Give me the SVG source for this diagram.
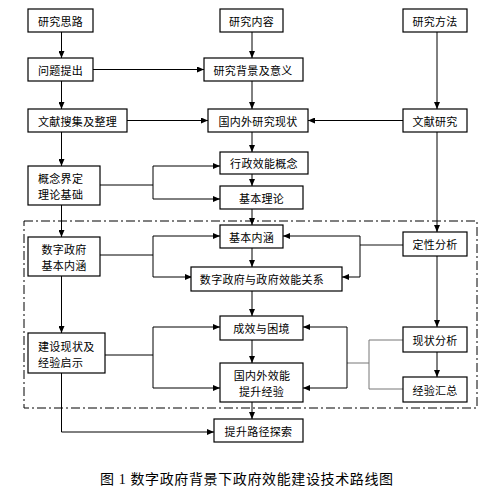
<svg xmlns="http://www.w3.org/2000/svg" width="497" height="490" viewBox="0 0 497 490">
<defs>
<marker id="ah" markerUnits="userSpaceOnUse" markerWidth="7" markerHeight="6" refX="7" refY="3" orient="auto">
<path d="M0,0 L7,3 L0,6 z" fill="#000"/>
</marker>
<style>
.box{fill:#fff;stroke:#000;stroke-width:1.2}
.t{font-family:"Noto Sans CJK SC",sans-serif;font-size:11px;fill:#000;dominant-baseline:central;letter-spacing:0.3px}
.c{text-anchor:middle}
.ln{fill:none;stroke:#000;stroke-width:1}
.ar{fill:none;stroke:#000;stroke-width:1;marker-end:url(#ah)}
.g{fill:none;stroke:#777;stroke-width:1}
.gt{fill:none;stroke:#888;stroke-width:2}
.dash{fill:none;stroke:#000;stroke-width:1;stroke-dasharray:9 3 2 3}
.cap{font-family:"Liberation Serif","Noto Sans CJK SC",serif;font-size:14px;fill:#000;dominant-baseline:central}
</style>
</defs>
<rect x="0" y="0" width="497" height="490" fill="#fff"/>
<rect class="dash" x="24" y="221" width="453" height="187"/>
<g id="connectors">
<path class="ar" d="M61.5,32V58"/>
<path class="ar" d="M61.5,81V109"/>
<path class="ar" d="M61.5,132V166"/>
<path class="ar" d="M61.5,205V237"/>
<path class="ar" d="M61.5,276V333"/>
<path class="ar" d="M61.5,373V432H214"/>
<path class="ar" d="M93,69.5H204"/>
<path class="ar" d="M127,120.5H208"/>
<path class="ar" d="M403,120.5H308"/>
<path class="ln" d="M100,185H153M153,166V199"/>
<path class="ar" d="M153,166H220"/>
<path class="ar" d="M153,199H220"/>
<path class="ln" d="M100,255H153M153,236V277"/>
<path class="ar" d="M153,236H220"/>
<path class="ar" d="M153,277H192"/>
<path class="ln" d="M105,355H153M153,327V388"/>
<path class="ar" d="M153,327H220"/>
<path class="ar" d="M153,388H220"/>
<path class="ar" d="M252,32V58"/>
<path class="ar" d="M252,81V109"/>
<path class="ar" d="M252,132V152"/>
<path class="ar" d="M252,174V186"/>
<path class="ar" d="M252,209V225"/>
<path class="ar" d="M252,248V267"/>
<path class="ar" d="M252,291V316"/>
<path class="ar" d="M252,340V363"/>
<path class="ar" d="M252,402V419"/>
<path class="ar" d="M437,32V109"/>
<path class="ar" d="M437,132V232"/>
<path class="ar" d="M437,256V327"/>
<path class="ar" d="M437,352V377"/>
<path class="gt" d="M403,245H360"/>
<path class="ln" d="M360,236V277"/>
<path class="ar" d="M360,236H283"/>
<path class="ar" d="M360,277H342"/>
<path class="g" d="M403,340H369V389H403M369,363H347"/>
<path class="ln" d="M347,327V388"/>
<path class="ar" d="M347,327H303"/>
<path class="ar" d="M347,388H303"/>
</g>
<g id="n1"><rect class="box" x="28" y="9" width="65" height="23"/><text class="t c" x="60.5" y="20.5">研究思路</text></g>
<g id="n2"><rect class="box" x="28" y="58" width="65" height="23"/><text class="t c" x="60.5" y="69.5">问题提出</text></g>
<g id="n3"><rect class="box" x="28" y="109" width="99" height="23"/><text class="t c" x="77.5" y="120.5">文献搜集及整理</text></g>
<g id="n4"><rect class="box" x="28" y="166" width="72" height="39"/><text class="t" x="38" y="178">概念界定</text><text class="t" x="38" y="194">理论基础</text></g>
<g id="n5"><rect class="box" x="28" y="237" width="72" height="39"/><text class="t c" x="64" y="249">数字政府</text><text class="t c" x="64" y="265">基本内涵</text></g>
<g id="n6"><rect class="box" x="28" y="333" width="77" height="40"/><text class="t" x="38" y="346">建设现状及</text><text class="t" x="38" y="362">经验启示</text></g>
<g id="n7"><rect class="box" x="220" y="9" width="63" height="23"/><text class="t c" x="251.5" y="20.5">研究内容</text></g>
<g id="n8"><rect class="box" x="204" y="58" width="99" height="23"/><text class="t c" x="253" y="69.5">研究背景及意义</text></g>
<g id="n9"><rect class="box" x="208" y="109" width="100" height="23"/><text class="t c" x="258" y="120.5">国内外研究现状</text></g>
<g id="n10"><rect class="box" x="220" y="152" width="88" height="22"/><text class="t c" x="264" y="163">行政效能概念</text></g>
<g id="n11"><rect class="box" x="220" y="186" width="83" height="23"/><text class="t c" x="261.5" y="197.5">基本理论</text></g>
<g id="n12"><rect class="box" x="220" y="225" width="63" height="23"/><text class="t c" x="251.5" y="236.5">基本内涵</text></g>
<g id="n13"><rect class="box" x="191" y="267" width="151" height="24"/><text class="t c" x="262" y="279">数字政府与政府效能关系</text></g>
<g id="n14"><rect class="box" x="220" y="316" width="83" height="24"/><text class="t c" x="261.5" y="328">成效与困境</text></g>
<g id="n15"><rect class="box" x="220" y="363" width="83" height="39"/><text class="t c" x="262" y="375">国内外效能</text><text class="t c" x="261.5" y="391">提升经验</text></g>
<g id="n16"><rect class="box" x="214" y="419" width="89" height="23"/><text class="t c" x="258.5" y="430.5">提升路径探索</text></g>
<g id="n17"><rect class="box" x="403" y="9" width="64" height="23"/><text class="t c" x="435" y="20.5">研究方法</text></g>
<g id="n18"><rect class="box" x="403" y="109" width="64" height="23"/><text class="t c" x="435" y="120.5">文献研究</text></g>
<g id="n19"><rect class="box" x="403" y="232" width="64" height="24"/><text class="t c" x="435" y="244">定性分析</text></g>
<g id="n20"><rect class="box" x="403" y="327" width="64" height="25"/><text class="t c" x="435" y="339.5">现状分析</text></g>
<g id="n21"><rect class="box" x="403" y="377" width="64" height="25"/><text class="t c" x="435" y="389.5">经验汇总</text></g>
<text class="cap" x="100" y="479" textLength="293" lengthAdjust="spacing">图 1  数字政府背景下政府效能建设技术路线图</text>
</svg>
